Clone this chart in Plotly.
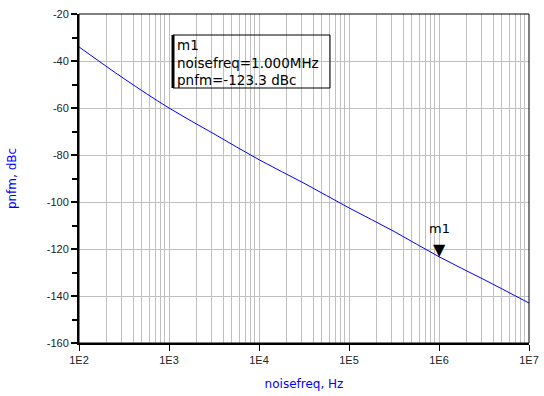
import plotly.graph_objects as go
import math

# data
freq = [1e2, 3.16e2, 1e3, 3.16e3, 1e4, 3.16e4, 1e5, 3.16e5, 1e6, 3.16e6, 1e7]
pnfm = [-34, -47.5, -60, -71, -82, -92, -102.5, -112.5, -123.3, -133, -143]
marker_x = 1e6
marker_y = -123.3
marker_name = "m1"
x_ticks = [1e2, 1e3, 1e4, 1e5, 1e6, 1e7]
x_ticklabels = ["1E2", "1E3", "1E4", "1E5", "1E6", "1E7"]
y_ticks = [-20, -40, -60, -80, -100, -120, -140, -160]
y_ticklabels = ["-20", "-40", "-60", "-80", "-100", "-120", "-140", "-160"]

minor_x = [m * 10 ** e for e in range(2, 7) for m in range(2, 10)]

fig = go.Figure()
fig.add_trace(go.Scatter(x=freq, y=pnfm, mode="lines", line=dict(color="#0000ff", width=1),
                         line_shape="spline", showlegend=False, hoverinfo="skip"))

# marker triangle (apex on the curve) and its label
fig.add_annotation(x=math.log10(marker_x), y=marker_y, text="▼", showarrow=False,
                   xanchor="center", yanchor="bottom", yshift=-4,
                   font=dict(family="DejaVu Sans", size=16, color="black"))
fig.add_annotation(x=math.log10(marker_x), y=marker_y, text=marker_name, showarrow=False,
                   xanchor="center", yanchor="bottom", yshift=19,
                   font=dict(family="DejaVu Sans", size=13, color="black"))

grid = "#c0c0c0"
font = dict(family="Liberation Sans", size=11, color="#222222")
fig.update_xaxes(type="log", range=[2, 7], tickvals=x_ticks, ticktext=x_ticklabels,
                 ticks="outside", ticklen=6, tickcolor="black", tickwidth=1,
                 showgrid=True, gridcolor=grid, gridwidth=1,
                 minor=dict(tickvals=minor_x, showgrid=True, gridcolor=grid, gridwidth=1, ticks=""),
                 showline=True, linecolor="black", linewidth=2, tickfont=font,
                 title=dict(text="noisefreq, Hz", font=dict(family="DejaVu Sans", size=12, color="#0000ff"),
                            standoff=14),
                 zeroline=False, automargin=False)
fig.update_yaxes(range=[-160, -20], tickvals=y_ticks, ticktext=y_ticklabels,
                 ticks="outside", ticklen=6, tickcolor="black", tickwidth=2,
                 minor=dict(dtick=10, tick0=0, ticks="outside", ticklen=5, tickcolor="black", showgrid=False),
                 showgrid=True, gridcolor=grid, gridwidth=1,
                 showline=True, linecolor="black", linewidth=2, tickfont=font,
                 title=dict(text="pnfm, dBc", font=dict(family="DejaVu Sans", size=12, color="#0000ff"),
                            standoff=28),
                 zeroline=False, automargin=False)

# thin frame (top / right)
fig.add_shape(type="rect", xref="paper", yref="paper", x0=0, x1=1, y0=0, y1=1,
              line=dict(color="black", width=1), layer="above")

# marker readout box
bx0, bx1 = (173 - 79) / 450, (330 - 79) / 450
by0, by1 = (343 - 88) / 329, (343 - 35) / 329
fig.add_shape(type="rect", xref="paper", yref="paper", x0=bx0, x1=bx1, y0=by0, y1=by1,
              line=dict(color="black", width=1), layer="above")
fig.add_shape(type="line", xref="paper", yref="paper", x0=bx0, x1=bx0, y0=by0, y1=by1,
              line=dict(color="black", width=3), layer="above")
fig.add_annotation(xref="paper", yref="paper", x=(175 - 79) / 450, y=(343 - 35) / 329,
                   xanchor="left", yanchor="top", align="left", showarrow=False,
                   text="m1<br>noisefreq=1.000MHz<br>pnfm=-123.3 dBc",
                   font=dict(family="DejaVu Sans", size=13.5, color="black"))

fig.update_layout(width=544, height=396, margin=dict(l=79, r=15, t=14, b=53),
                  plot_bgcolor="white", paper_bgcolor="white")
fig.write_html("out.html")
